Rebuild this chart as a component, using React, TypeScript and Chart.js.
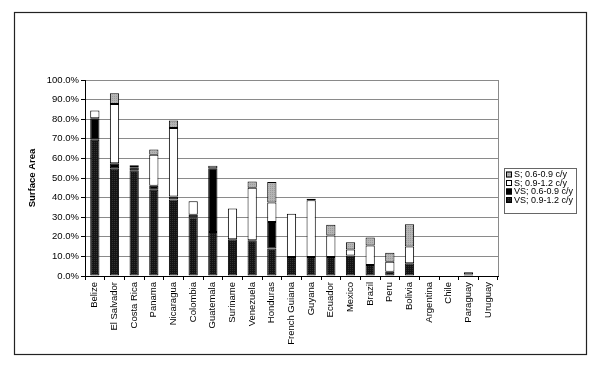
import React, { useEffect, useRef } from 'react';
import { Chart, registerables } from 'chart.js';

Chart.register(...registerables);

const categories = [
  'Belize', 'El Salvador', 'Costa Rica', 'Panama', 'Nicaragua', 'Colombia', 'Guatemala',
  'Suriname', 'Venezuela', 'Honduras', 'French Guiana', 'Guyana', 'Ecuador', 'Mexico',
  'Brazil', 'Peru', 'Bolivia', 'Argentina', 'Chile', 'Paraguay', 'Uruguay',
];

// stacked from bottom to top
const vs0912 = [69.5, 55.0, 54.0, 44.0, 39.0, 30.0, 22.5, 18.8, 18.3, 14.0, 9.7, 9.7, 9.7, 10.5, 5.6, 2.2, 6.5, 0, 0, 0, 0];
const vs0609 = [11.0, 2.5, 1.5, 2.0, 1.5, 1.2, 32.5, 0, 0, 13.5, 0, 0, 0, 0, 0, 0, 0, 0, 0, 0, 0];
const s0912 = [4.0, 30.3, 1.0, 15.8, 35.0, 7.0, 1.2, 15.7, 26.7, 10.0, 22.0, 29.0, 11.0, 3.0, 9.9, 5.1, 8.5, 0, 0, 0.8, 0];
const s0609 = [0, 5.4, 0, 2.7, 3.8, 0, 0, 0, 3.2, 10.5, 0, 0.7, 5.5, 3.7, 4.2, 4.6, 11.4, 0, 0, 1.1, 0];

const legendLabels = ['S; 0.6-0.9 c/y', 'S; 0.9-1.2 c/y', 'VS; 0.6-0.9 c/y', 'VS; 0.9-1.2 c/y'];
const yTickStep = 10;
const yMax = 100;
const yTitle = 'Surface Area';

const FONT = '"Liberation Sans", Arial, sans-serif';

function makePattern(a: string, b: string): CanvasPattern | string {
  const c = document.createElement('canvas');
  c.width = 2;
  c.height = 2;
  const g = c.getContext('2d');
  if (!g) return a;
  g.fillStyle = a;
  g.fillRect(0, 0, 2, 2);
  g.fillStyle = b;
  g.fillRect(0, 0, 1, 1);
  const p = g.createPattern(c, 'repeat');
  return p || a;
}

export default function App() {
  const ref = useRef<HTMLCanvasElement | null>(null);

  useEffect(() => {
    document.body.style.margin = '0';
    const canvas = ref.current;
    if (!canvas) return;

    const grayFill = makePattern('#b4b4b4', '#9a9a9a');
    const darkFill = makePattern('#141414', '#303030');
    const fills = [darkFill, '#000000', '#ffffff', grayFill];
    const series = [vs0912, vs0609, s0912, s0609];
    const names = [legendLabels[3], legendLabels[2], legendLabels[1], legendLabels[0]];

    const framePlugin = {
      id: 'frame',
      beforeDraw(chart: any) {
        const ctx = chart.ctx;
        ctx.save();
        ctx.fillStyle = '#ffffff';
        ctx.fillRect(0, 0, chart.width, chart.height);
        ctx.strokeStyle = '#222';
        ctx.lineWidth = 1.2;
        ctx.strokeRect(14.5, 12.5, 572, 342);
        ctx.restore();
      },
      afterDraw(chart: any) {
        const ctx = chart.ctx;
        const a = chart.chartArea;
        ctx.save();
        ctx.strokeStyle = '#8a8a8a';
        ctx.lineWidth = 1;
        ctx.beginPath();
        ctx.moveTo(Math.round(a.right) + 0.5, a.top);
        ctx.lineTo(Math.round(a.right) + 0.5, a.bottom);
        ctx.stroke();

        // legend
        const lx = 504, ly = 168, lw = 72, lh = 45;
        ctx.fillStyle = '#fff';
        ctx.fillRect(lx, ly, lw, lh);
        ctx.strokeStyle = '#666';
        ctx.strokeRect(lx + 0.5, ly + 0.5, lw, lh);
        const legendFills = [grayFill, '#ffffff', '#000000', darkFill];
        ctx.font = '9px ' + FONT;
        ctx.textBaseline = 'middle';
        ctx.textAlign = 'left';
        legendLabels.forEach((t, i) => {
          const cy = ly + 6.5 + i * 8.5;
          ctx.fillStyle = legendFills[i] as any;
          ctx.fillRect(506, cy - 3, 6, 6);
          ctx.strokeStyle = '#000';
          ctx.strokeRect(506.5, cy - 2.5, 5, 5);
          ctx.fillStyle = '#000';
          ctx.fillText(t, 514, cy + 0.5);
        });
        ctx.restore();
      },
    };

    const chart = new Chart(canvas, {
      type: 'bar',
      data: {
        labels: categories,
        datasets: series.map((s, i) => ({
          label: names[i],
          data: s.map((v) => (v === 0 ? null : v)),
          backgroundColor: fills[i] as any,
          borderColor: '#000',
          borderWidth: 1,
          borderSkipped: false,
          barPercentage: 0.47,
          categoryPercentage: 1,
        })),
      },
      options: {
        responsive: false,
        animation: false,
        devicePixelRatio: 1,
        layout: { padding: { left: 14, top: 80, right: 102, bottom: 0 } },
        plugins: {
          legend: { display: false },
          tooltip: { enabled: false },
        },
        scales: {
          x: {
            stacked: true,
            grid: {
              display: true,
              drawOnChartArea: false,
              drawTicks: true,
              tickLength: 4,
              color: '#000',
              offset: true,
            },
            border: { color: '#000', width: 1 },
            ticks: {
              color: '#000',
              font: { family: FONT, size: 9.5 },
              minRotation: 90,
              maxRotation: 90,
              autoSkip: false,
              padding: 2,
            },
            afterFit(scale: any) {
              scale.height = 91;
            },
          },
          y: {
            stacked: true,
            min: 0,
            max: yMax,
            grid: {
              color: '#8a8a8a',
              drawTicks: true,
              tickLength: 4,
              tickColor: '#000',
            },
            border: { color: '#000', width: 1 },
            ticks: {
              stepSize: yTickStep,
              color: '#000',
              font: { family: FONT, size: 9.5 },
              padding: 2,
              callback: (v: any) => Number(v).toFixed(1) + '%',
            },
            title: {
              display: true,
              text: yTitle,
              color: '#000',
              font: { family: FONT, size: 9.5, weight: 'bold' },
              padding: { top: 13, bottom: 0 },
            },
            afterFit(scale: any) {
              scale.width = 71;
            },
          },
        },
      },
      plugins: [framePlugin],
    });

    return () => {
      chart.destroy();
    };
  }, []);

  return (
    <div style={{ width: 600, height: 367, position: 'relative' }}>
      <canvas ref={ref} width={600} height={367} style={{ width: 600, height: 367, display: 'block' }} />
    </div>
  );
}
